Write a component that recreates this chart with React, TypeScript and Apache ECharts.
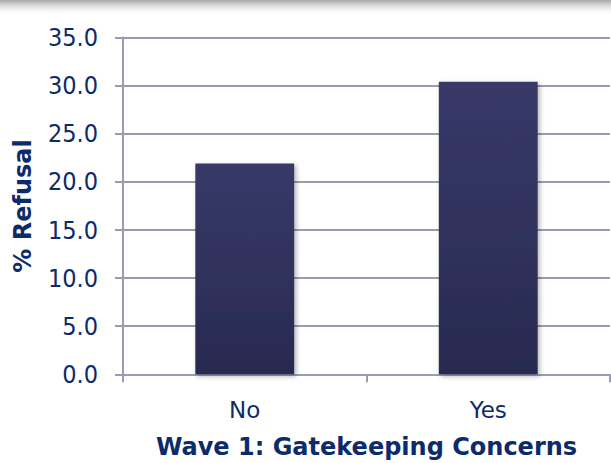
import React, { useEffect, useRef } from "react";
import * as echarts from "echarts";

const categories = ["No", "Yes"];
const refusalPct = [21.9, 30.4];
const yTicks = { min: 0, max: 35, interval: 5 };

const NAVY_TEXT = "#0d2b6b";
const AXIS_GRAY = "#9a9cb0";
const FONT_NUM = "'DejaVu Sans Condensed', 'DejaVu Sans', sans-serif";
const FONT = "'DejaVu Sans', sans-serif";

export default function App() {
  const ref = useRef<HTMLDivElement>(null);

  useEffect(() => {
    if (!ref.current) return;
    const chart = echarts.init(ref.current, undefined, { renderer: "svg" });
    chart.setOption({
      animation: false,
      backgroundColor: "#ffffff",
      graphic: [
        {
          type: "rect",
          left: 0,
          top: 0,
          shape: { width: 611, height: 16 },
          style: {
            fill: new echarts.graphic.LinearGradient(0, 0, 0, 1, [
              { offset: 0, color: "rgba(150,150,150,0.85)" },
              { offset: 0.45, color: "rgba(200,200,200,0.5)" },
              { offset: 1, color: "rgba(255,255,255,0)" },
            ]),
          },
          silent: true,
        },
      ],
      grid: {
        left: 123,
        right: 1,
        top: 37.6,
        bottom: 88.7,
        containLabel: false,
        outerBoundsMode: "none",
      },
      xAxis: {
        type: "category",
        data: categories,
        name: "Wave 1: Gatekeeping Concerns",
        nameLocation: "middle",
        nameGap: 61,
        nameTextStyle: {
          color: NAVY_TEXT,
          fontFamily: FONT,
          fontWeight: "bold",
          fontSize: 24,
        },
        axisLine: { show: true, lineStyle: { color: AXIS_GRAY, width: 2 } },
        axisTick: {
          show: true,
          alignWithLabel: false,
          length: 8,
          lineStyle: { color: AXIS_GRAY, width: 2 },
        },
        axisLabel: {
          color: NAVY_TEXT,
          fontFamily: FONT,
          fontSize: 23,
          margin: 24,
        },
      },
      yAxis: {
        type: "value",
        min: yTicks.min,
        max: yTicks.max,
        interval: yTicks.interval,
        name: "% Refusal",
        nameLocation: "middle",
        nameGap: 88,
        nameTextStyle: {
          color: NAVY_TEXT,
          fontFamily: FONT,
          fontWeight: "bold",
          fontSize: 24,
        },
        axisLine: { show: true, lineStyle: { color: AXIS_GRAY, width: 2 } },
        axisTick: {
          show: true,
          inside: false,
          length: 8,
          lineStyle: { color: AXIS_GRAY, width: 2 },
        },
        splitLine: { show: true, lineStyle: { color: AXIS_GRAY, width: 2 } },
        axisLabel: {
          color: NAVY_TEXT,
          fontFamily: FONT_NUM,
          fontSize: 25,
          margin: 25,
          formatter: (v: number) => v.toFixed(1),
        },
      },
      series: [
        {
          type: "bar",
          data: refusalPct,
          barWidth: "40.6%",
          itemStyle: {
            color: new echarts.graphic.LinearGradient(0, 0, 0, 1, [
              { offset: 0, color: "#383969" },
              { offset: 1, color: "#282a50" },
            ]),
            shadowColor: "rgba(0,0,0,0.3)",
            shadowBlur: 5,
            shadowOffsetX: 2,
            shadowOffsetY: 2,
          },
        },
      ],
    });
    return () => chart.dispose();
  }, []);

  return (
    <div
      ref={ref}
      style={{ position: "fixed", left: 0, top: 0, width: 611, height: 463 }}
    />
  );
}
